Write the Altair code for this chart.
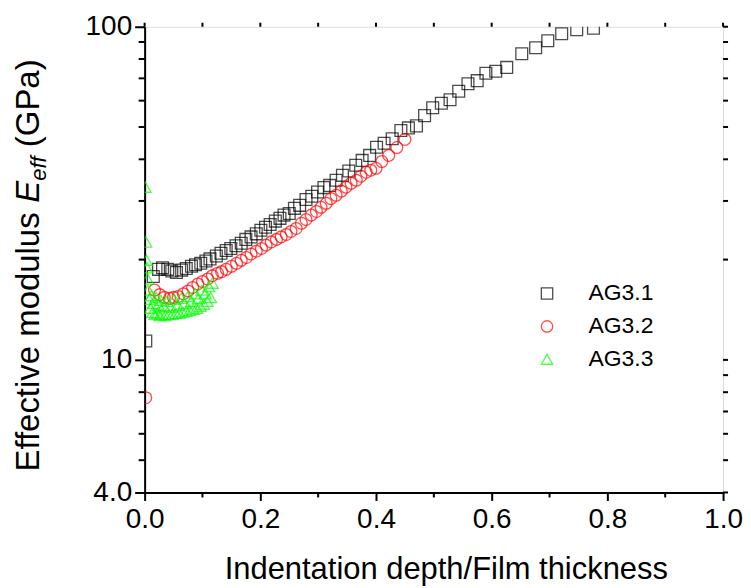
import altair as alt
import pandas as pd

# ---------------- data ----------------
series_names = ["AG3.1", "AG3.2", "AG3.3"]

ag31_x = [0.002, 0.015, 0.024, 0.031, 0.040, 0.047, 0.055, 0.064, 0.072, 0.081,
          0.088, 0.097, 0.106, 0.113, 0.124, 0.132, 0.141, 0.149, 0.158, 0.167,
          0.175, 0.184, 0.193, 0.201, 0.209, 0.217, 0.226, 0.234, 0.241, 0.250,
          0.259, 0.268, 0.279, 0.289, 0.299, 0.310, 0.320, 0.331, 0.342, 0.353,
          0.365, 0.376, 0.389, 0.401, 0.414, 0.428, 0.443, 0.456, 0.470, 0.484,
          0.498, 0.513, 0.528, 0.543, 0.559, 0.575, 0.590, 0.607, 0.626, 0.652,
          0.676, 0.697, 0.721, 0.747, 0.776]
ag31_y = [11.4, 17.8, 18.7, 18.9, 18.7, 18.5, 18.3, 18.6, 18.8, 19.1,
          19.3, 19.5, 19.8, 20.1, 20.5, 20.9, 21.3, 21.6, 22.0, 22.4,
          23.0, 23.4, 23.9, 24.5, 25.0, 25.5, 26.1, 26.6, 27.2, 27.5,
          28.5, 29.1, 30.3, 31.0, 31.9, 32.9, 33.4, 34.6, 35.8, 36.9,
          38.4, 39.7, 41.1, 43.5, 44.7, 46.1, 48.8, 49.7, 50.4, 54.1,
          57.1, 58.9, 60.4, 64.0, 67.4, 68.9, 72.5, 73.5, 75.5, 83.0,
          86.5, 90.8, 95.3, 97.9, 99.0]

ag32_x = [0.002, 0.017, 0.026, 0.034, 0.043, 0.050, 0.058, 0.067, 0.075, 0.083,
          0.092, 0.100, 0.109, 0.117, 0.126, 0.133, 0.141, 0.150, 0.159, 0.167,
          0.176, 0.184, 0.193, 0.202, 0.210, 0.219, 0.228, 0.236, 0.245, 0.253,
          0.262, 0.271, 0.279, 0.288, 0.297, 0.305, 0.314, 0.322, 0.331, 0.340,
          0.348, 0.357, 0.366, 0.374, 0.383, 0.391, 0.400, 0.410, 0.422, 0.436,
          0.450]
ag32_y = [7.7, 16.2, 15.7, 15.4, 15.3, 15.4, 15.5, 15.8, 16.1, 16.5,
          16.9, 17.2, 17.5, 17.9, 18.2, 18.4, 18.7, 19.1, 19.5, 19.9,
          20.3, 20.8, 21.2, 21.6, 22.1, 22.6, 23.0, 23.4, 23.8, 24.3,
          24.8, 25.7, 26.4, 27.2, 27.9, 28.7, 29.5, 30.5, 31.2, 32.1,
          33.0, 33.9, 34.6, 35.6, 36.6, 37.1, 37.6, 39.4, 41.1, 43.4,
          45.9]

ag33_x = [0.001, 0.002, 0.003, 0.004, 0.005, 0.006, 0.008, 0.010, 0.012, 0.014,
          0.016, 0.018, 0.020, 0.022, 0.024, 0.026, 0.028, 0.030, 0.033, 0.036,
          0.039, 0.042, 0.045, 0.048, 0.051, 0.054, 0.057, 0.060, 0.063, 0.066,
          0.069, 0.072, 0.075, 0.078, 0.081, 0.084, 0.087, 0.090, 0.093, 0.096,
          0.099, 0.102, 0.105, 0.108, 0.111, 0.114, 0.117]
ag33_y = [33.0, 22.6, 19.9, 18.9, 17.5, 16.2, 15.2, 14.3, 15.6, 13.9,
          14.8, 13.7, 15.4, 13.8, 14.6, 13.6, 15.1, 13.7, 14.5, 13.6,
          15.0, 13.7, 14.4, 13.7, 15.2, 13.8, 14.6, 13.8, 15.3, 13.9,
          14.8, 14.0, 15.5, 14.1, 15.0, 14.2, 15.8, 14.3, 15.3, 14.5,
          16.2, 14.7, 15.8, 15.0, 16.6, 15.4, 17.0]

x_major = [0.0, 0.2, 0.4, 0.6, 0.8, 1.0]
x_minor = [0.1, 0.3, 0.5, 0.7, 0.9]
y_major = [4, 10, 100]
y_minor = [5, 6, 7, 8, 9, 20, 30, 40, 50, 60, 70, 80, 90]

colors = ["#000000", "#ff0000", "#00ff00"]
shapes = ["square", "circle", "triangle-up"]

rows = []
for name, xs, ys in zip(series_names, [ag31_x, ag32_x, ag33_x], [ag31_y, ag32_y, ag33_y]):
    for a, b in zip(xs, ys):
        rows.append({"series": name, "x": a, "y": b})
df = pd.DataFrame(rows)

ytick_df = pd.DataFrame({"v": y_major + y_minor,
                         "kind": ["major"] * len(y_major) + ["minor"] * len(y_minor)})
xtick_df = pd.DataFrame({"v": x_major + x_minor,
                         "kind": ["major"] * len(x_major) + ["minor"] * len(x_minor)})

FONT = "Liberation Sans"
W, H = 580, 467
LABEL_FS = 28
TITLE_FS = 31

xscale = alt.Scale(domain=[0, 1], nice=False, zero=False)
yscale = alt.Scale(type="log", domain=[4, 100], nice=False)

legend_kw = dict(title=None, orient="none", legendX=392, legendY=256, labelFont=FONT,
                 labelFontSize=23, labelColor="black", symbolSize=130, symbolStrokeWidth=1.3,
                 labelOffset=30, rowPadding=9)

points = alt.Chart(df).mark_point(filled=False, strokeWidth=1.3, size=140, clip=True).encode(
    x=alt.X("x:Q", scale=xscale,
            axis=alt.Axis(values=x_major, format=".1f", title="Indentation depth/Film thickness",
                          grid=False, tickSize=8, tickWidth=2, domainWidth=2, domainColor="black",
                          tickColor="black", labelFontSize=LABEL_FS, labelFont=FONT, labelColor="black",
                          labelPadding=5, titleFont=FONT, titleFontSize=TITLE_FS,
                          titleFontWeight="normal", titleColor="black", titlePadding=21,
                          titleX=302, labelFlush=False)),
    y=alt.Y("y:Q", scale=yscale,
            axis=alt.Axis(values=y_major, labelExpr="datum.value == 4 ? '4.0' : datum.value",
                          title=None, grid=False, tickSize=10, tickWidth=2, domainWidth=2,
                          domainColor="black", tickColor="black", labelFontSize=LABEL_FS,
                          labelFont=FONT, labelColor="black", labelPadding=3, labelFlush=False)),
    shape=alt.Shape("series:N", scale=alt.Scale(domain=series_names, range=shapes),
                    legend=alt.Legend(**legend_kw)),
    color=alt.Color("series:N", scale=alt.Scale(domain=series_names, range=colors),
                    legend=alt.Legend(**legend_kw)),
)

# minor ticks on left/bottom, mirrored ticks on right/top
left_minor = alt.Chart(ytick_df).transform_filter("datum.kind == 'minor'").mark_rule(
    color="black", strokeWidth=2).encode(
    y=alt.Y("v:Q", scale=yscale, axis=None), x=alt.value(0), x2=alt.value(-6))
right_ticks = alt.Chart(ytick_df).mark_rule(color="black", strokeWidth=2).encode(
    y=alt.Y("v:Q", scale=yscale, axis=None), x=alt.value(W), x2=alt.value(W + 5))
bottom_minor = alt.Chart(xtick_df).transform_filter("datum.kind == 'minor'").mark_rule(
    color="black", strokeWidth=2).encode(
    x=alt.X("v:Q", scale=xscale, axis=None), y=alt.value(H), y2=alt.value(H + 5))
top_ticks = alt.Chart(xtick_df).mark_rule(color="black", strokeWidth=2).encode(
    x=alt.X("v:Q", scale=xscale, axis=None), y=alt.value(0), y2=alt.value(-4))

# y-axis title with italic E and subscript "eff"
YS = 33
SUB = 22
YT = 446
BX = -106
w1 = 8.17 * YS
wE = 0.667 * YS
wsub = 1.112 * SUB
t1 = alt.Chart(pd.DataFrame({"t": ["Effective modulus"]})).mark_text(
    angle=270, align="left", baseline="alphabetic", font=FONT, fontSize=YS, color="black").encode(
    text="t:N", x=alt.value(BX), y=alt.value(YT))
t2 = alt.Chart(pd.DataFrame({"t": ["E"]})).mark_text(
    angle=270, align="left", baseline="alphabetic", font=FONT, fontSize=YS, fontStyle="italic",
    color="black").encode(text="t:N", x=alt.value(BX), y=alt.value(YT - w1))
t3 = alt.Chart(pd.DataFrame({"t": ["eff"]})).mark_text(
    angle=270, align="left", baseline="alphabetic", font=FONT, fontSize=SUB, fontStyle="italic",
    color="black").encode(text="t:N", x=alt.value(BX + 7), y=alt.value(YT - w1 - wE))
t4 = alt.Chart(pd.DataFrame({"t": ["(GPa)"]})).mark_text(
    angle=270, align="left", baseline="alphabetic", font=FONT, fontSize=YS, color="black").encode(
    text="t:N", x=alt.value(BX), y=alt.value(YT - w1 - wE - wsub - 0.278 * YS))

chart = alt.layer(points, left_minor, right_ticks, bottom_minor, top_ticks, t1, t2, t3, t4).resolve_axis(
    x="independent", y="independent"
).properties(
    width=W, height=H,
    autosize=alt.AutoSizeParams(type="none"),
    padding={"left": 137, "top": 18, "right": 20, "bottom": 95},
).configure_view(stroke="black", strokeWidth=2).configure(background="white")

chart.save("out.html", embed_options={"renderer": "svg", "actions": False})
